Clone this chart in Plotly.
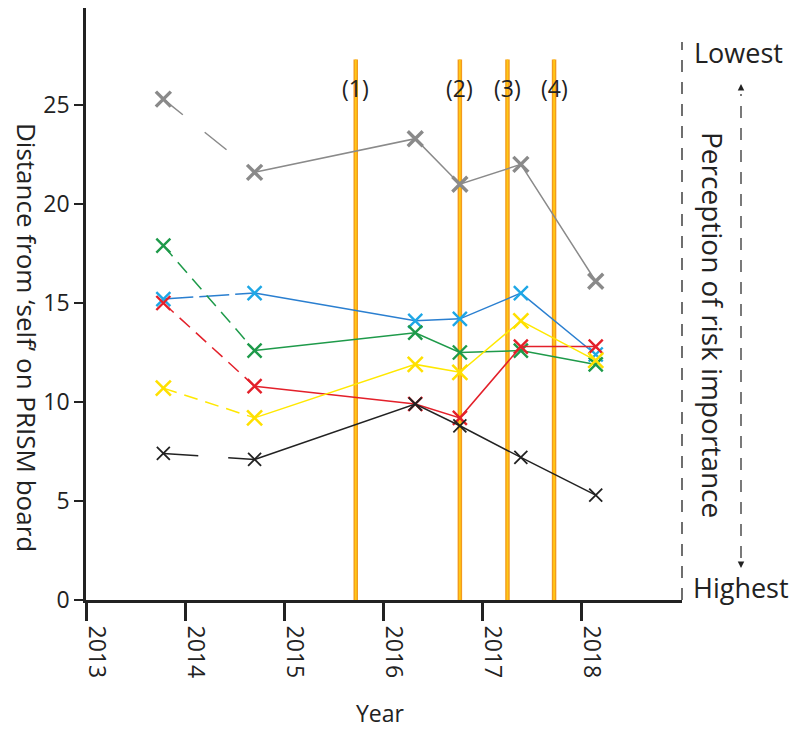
import plotly.graph_objects as go

# ---- data ----
survey_dates = [2013.78, 2014.70, 2016.32, 2016.77, 2017.385, 2018.14]
gray_vals   = [25.3, 21.6, 23.3, 21.0, 22.0, 16.1]
blue_vals   = [15.2, 15.5, 14.1, 14.2, 15.5, 12.4]
green_vals  = [17.9, 12.6, 13.5, 12.5, 12.6, 11.9]
red_vals    = [15.0, 10.8, 9.9, 9.2, 12.8, 12.8]
yellow_vals = [10.7, 9.2, 11.9, 11.5, 14.1, 12.1]
black_vals  = [7.4, 7.1, 9.9, 8.8, 7.2, 5.3]

event_dates = [2015.72, 2016.77, 2017.25, 2017.72]
event_labels = ["(1)", "(2)", "(3)", "(4)"]
event_top = 27.3
event_label_y = 25.85

xticks = [2013, 2014, 2015, 2016, 2017, 2018]
yticks = [0, 5, 10, 15, 20, 25]

FONT = "Open Sans"

series = [
    (gray_vals,   "#8a8a8a", "#8a8a8a", "25px,28px,28px,40px", 3.4, 15),
    (blue_vals,   "#2a7fd0", "#1ea7e6", "30px,6px", 2.4, 14),
    (green_vals,  "#1e9a4a", "#1e9a4a", "14px,8px", 2.4, 14),
    (red_vals,    "#e3202a", "#e3202a", "14px,8px", 2.4, 14),
    (yellow_vals, "#ffe800", "#ffe000", "14px,8px", 2.6, 15),
    (black_vals,  "#222222", "#222222", "35px,30px", 1.8, 13),
]

fig = go.Figure()

shapes = []
for d in event_dates:
    shapes.append(dict(type="line", xref="x", yref="y", x0=d, x1=d, y0=0, y1=event_top,
                       line=dict(color="#f39a1e", width=4.5), layer="below"))
    shapes.append(dict(type="line", xref="x", yref="y", x0=d, x1=d, y0=0, y1=event_top,
                       line=dict(color="#ffc814", width=1.8), layer="below"))

for vals, lcol, mcol, dash, mw, ms in series:
    fig.add_trace(go.Scatter(x=survey_dates[:2], y=vals[:2], mode="lines",
                             line=dict(color=lcol, width=1.5, dash=dash),
                             showlegend=False, hoverinfo="skip"))
    fig.add_trace(go.Scatter(x=survey_dates[1:], y=vals[1:], mode="lines",
                             line=dict(color=lcol, width=1.5),
                             showlegend=False, hoverinfo="skip"))
    fig.add_trace(go.Scatter(x=survey_dates, y=vals, mode="markers",
                             marker=dict(symbol="x-thin", size=ms,
                                         line=dict(color=mcol, width=mw)),
                             showlegend=False, hoverinfo="skip"))

annotations = []
for d, lab in zip(event_dates, event_labels):
    annotations.append(dict(x=d, y=event_label_y, xref="x", yref="y", text=lab, showarrow=False,
                            xanchor="center", yanchor="middle",
                            font=dict(family=FONT, size=23, color="#222")))

def py(p):  # pixel y -> paper
    return (600 - p) / 592.0

def px(p):  # pixel x -> paper
    return (p - 86) / 596.0

def txt(x, y, s, size, angle=0):
    return dict(x=px(x), y=py(y), xref="paper", yref="paper", text=s, showarrow=False,
                xanchor="center", yanchor="middle", textangle=angle,
                font=dict(family=FONT, size=size, color="#222"))

shapes.append(dict(type="line", xref="paper", yref="paper", x0=1, x1=1, y0=0, y1=py(42),
                   line=dict(color="#222", width=1.3, dash="12px,10px")))
shapes.append(dict(type="line", xref="paper", yref="paper", x0=px(741), x1=px(741),
                   y0=py(558), y1=py(94),
                   line=dict(color="#222", width=1.2, dash="12px,10px")))
annotations += [
    dict(x=px(741), y=py(84), xref="paper", yref="paper", ax=0, ay=6, text="",
         showarrow=True, arrowhead=2, arrowsize=1, arrowwidth=1.3, arrowcolor="#222"),
    dict(x=px(741), y=py(568), xref="paper", yref="paper", ax=0, ay=-6, text="",
         showarrow=True, arrowhead=2, arrowsize=1, arrowwidth=1.3, arrowcolor="#222"),
    txt(738, 52, "Lowest", 27),
    txt(741, 587, "Highest", 27),
    txt(713, 325, "Perception of risk importance", 28, 90),
    txt(27, 337, "Distance from \u2018self\u2019 on PRISM board", 26, 90),
    txt(380, 713, "Year", 23),
]

fig.update_layout(
    width=804, height=730,
    margin=dict(l=86, r=122, t=8, b=130),
    paper_bgcolor="white", plot_bgcolor="white",
    font=dict(family=FONT, size=22, color="#222"),
    shapes=shapes, annotations=annotations,
    xaxis=dict(range=[2013, 2019.01], tickvals=xticks, ticktext=[str(t) for t in xticks],
               tickangle=90, ticks="outside", ticklen=18, tickwidth=2.5, tickcolor="#222",
               ticklabelshift=10,
               showline=True, linecolor="#222", linewidth=3, showgrid=False, zeroline=False,
               tickfont=dict(family=FONT, size=23, color="#222")),
    yaxis=dict(range=[0, 29.9], tickvals=yticks, ticks="outside", ticklen=9, tickwidth=2,
               tickcolor="#222", showline=True, linecolor="#222", linewidth=2.5,
               showgrid=False, zeroline=False,
               tickfont=dict(family=FONT, size=23, color="#222")),
)

fig.write_html("out.html")
